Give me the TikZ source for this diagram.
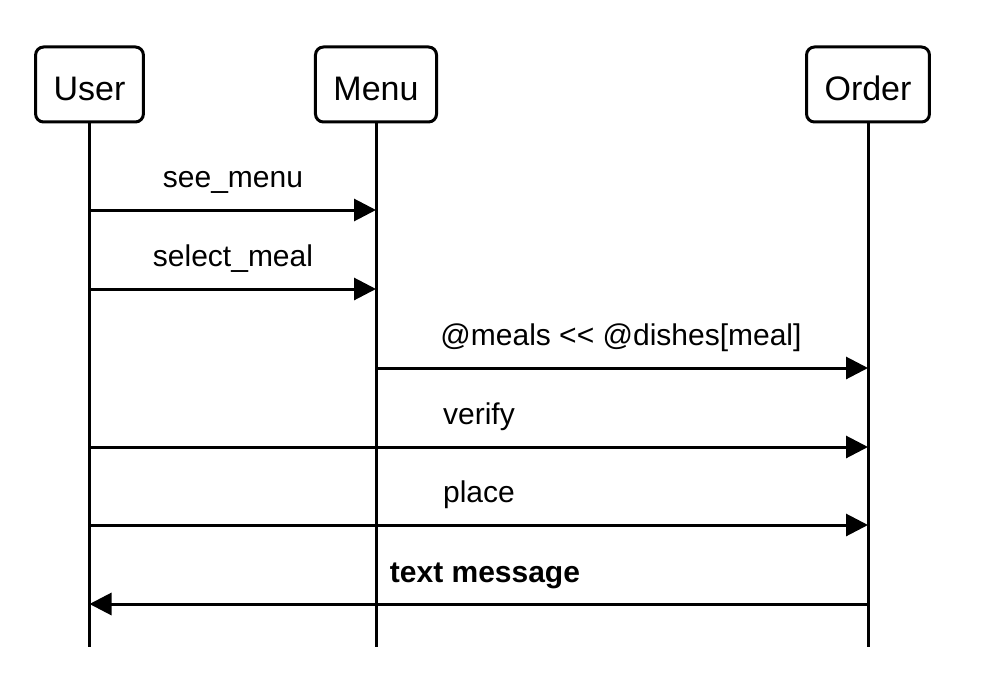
\documentclass[tikz,border=0pt]{standalone}
\usepackage{fontspec}
\setmainfont{Liberation Sans}
\usetikzlibrary{arrows.meta}
\begin{document}
\begin{tikzpicture}[x=1pt,y=-1pt,
  actor/.style={draw,line width=3pt,rounded corners=8pt,minimum height=75pt,inner xsep=18pt,
    text height=33pt,text depth=0pt,font=\fontsize{34}{40}\selectfont},
  life/.style={line width=3pt},
  msg/.style={line width=3pt,-{Triangle[length=22pt,width=22pt]}},
  lbl/.style={anchor=base,font=\fontsize{30}{36}\selectfont,inner sep=0pt}]
\useasboundingbox (0,0) rectangle (988,690);
\node[actor] (user) at (89.5,84.5) {User};
\node[actor] (menu) at (376,84.5) {Menu};
\node[actor] (order) at (868,84.5) {Order};
\coordinate (userend) at (89.5,647);
\coordinate (menuend) at (376,647);
\coordinate (orderend) at (868,647);
\draw[life] (user.south) -- (userend);
\draw[life] (menu.south) -- (menuend);
\draw[life] (order.south) -- (orderend);
% message coordinates
\coordinate (u1) at (89.5,210); \coordinate (m1) at (376,210);
\coordinate (u2) at (89.5,289); \coordinate (m2) at (376,289);
\coordinate (m3) at (376,368);  \coordinate (o3) at (868,368);
\coordinate (u4) at (89.5,447); \coordinate (o4) at (868,447);
\coordinate (u5) at (89.5,525); \coordinate (o5) at (868,525);
\coordinate (u6) at (89.5,604); \coordinate (o6) at (868,604);
\draw[msg] (u1) -- (m1);
\draw[msg] (u2) -- (m2);
\draw[msg] (m3) -- (o3);
\draw[msg] (u4) -- (o4);
\draw[msg] (u5) -- (o5);
\draw[msg] (o6) -- (u6);
\node[lbl] (l1) at (233,187) {see\_menu};
\node[lbl] (l2) at (233,266) {select\_meal};
\node[lbl] (l3) at (621,345) {@meals <\kern0pt< @dishes[meal]};
\node[lbl] (l4) at (479,424) {verify};
\node[lbl] (l5) at (479,502) {place};
\node[lbl] (l6) at (485,582) {\bfseries text message};
\end{tikzpicture}
\end{document}
